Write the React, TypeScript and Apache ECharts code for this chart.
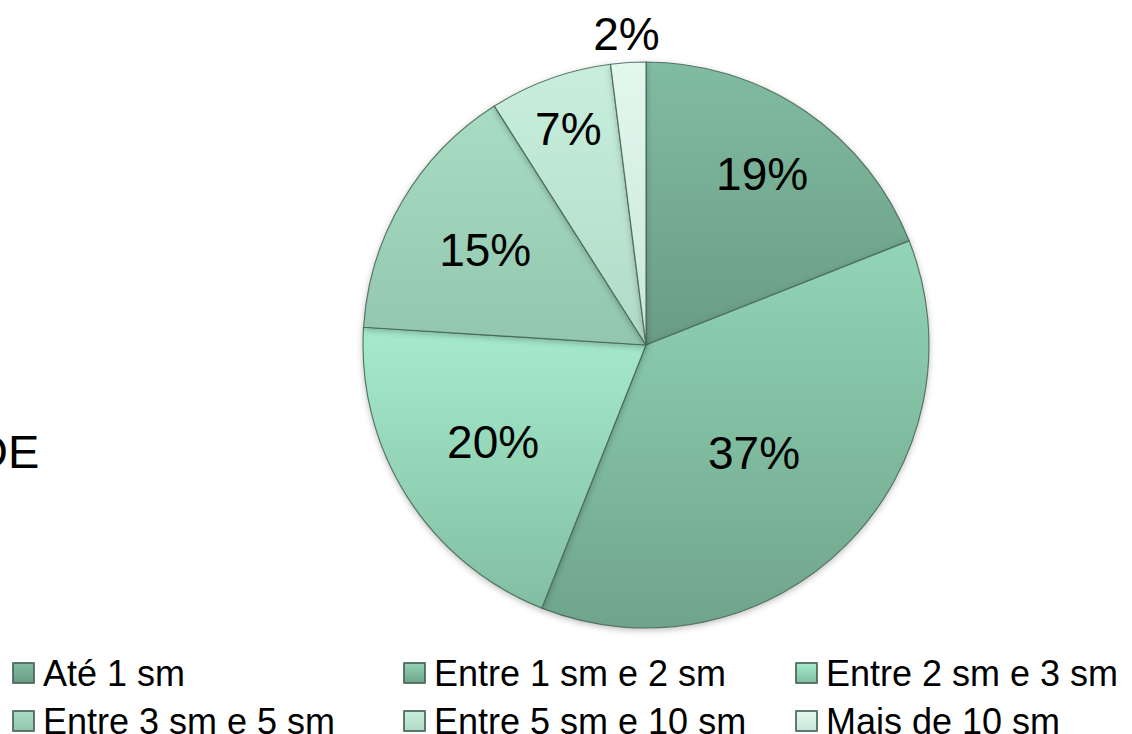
import React, { useEffect, useRef } from "react";
import * as echarts from "echarts";

const CATEGORIES = [
  "Até 1 sm",
  "Entre 1 sm e 2 sm",
  "Entre 2 sm e 3 sm",
  "Entre 3 sm e 5 sm",
  "Entre 5 sm e 10 sm",
  "Mais de 10 sm",
];
const VALUES = [19, 37, 20, 15, 7, 2];
const TOP_COLORS = ["#80bca1", "#92d5b6", "#a6ebcd", "#a8ddc4", "#c8efdd", "#e2f8ef"];
const BOTTOM_COLORS = ["#6a9c85", "#6fa48b", "#82bea2", "#92c6ae", "#b0dac7", "#c9e6da"];
const LABEL_RADIUS = [0.73, 0.54, 0.64, 0.66, 0.81, 1.1];
const SIDE_TEXT = "DE";

const CX = 646;
const CY = 345;
const R = 283;
const FONT = "'Liberation Sans', Arial, Helvetica, sans-serif";
const LEGEND_COLS = [12, 403, 795];
const LEGEND_ROWS = [655, 703];

export default function App() {
  const ref = useRef<HTMLDivElement>(null);
  useEffect(() => {
    if (!ref.current) return;
    const chart = echarts.init(ref.current, null, { renderer: "svg" });
    const data = CATEGORIES.map((name, i) => ({
      name,
      value: VALUES[i],
      itemStyle: {
        color: new echarts.graphic.LinearGradient(0, 0, 0, 1, [
          { offset: 0, color: TOP_COLORS[i] },
          { offset: 1, color: BOTTOM_COLORS[i] },
        ]),
      },
    }));
    const legends = CATEGORIES.map((name, i) => ({
      orient: "horizontal",
      left: LEGEND_COLS[i % 3],
      top: LEGEND_ROWS[Math.floor(i / 3)],
      data: [name],
      itemWidth: 21,
      itemHeight: 20,
      itemGap: 0,
      padding: 0,
      icon: "rect",
      textStyle: {
        fontSize: 36,
        fontFamily: FONT,
        color: "#000",
        lineHeight: 36,
        padding: [0, 0, 0, 4],
      },
    }));
    chart.setOption({
      animation: false,
      backgroundColor: "#fff",
      legend: legends,
      graphic: [
        {
          type: "text",
          left: -26,
          top: 428,
          style: {
            text: SIDE_TEXT,
            fontSize: 47,
            fontFamily: FONT,
            fill: "#000",
          },
        },
      ],
      series: [
        {
          type: "pie",
          center: [CX, CY],
          radius: [0, R],
          startAngle: 90,
          clockwise: true,
          avoidLabelOverlap: false,
          itemStyle: {
            borderColor: "rgba(70,100,85,0.85)",
            borderWidth: 1.2,
            shadowBlur: 6,
            shadowColor: "rgba(0,0,0,0.25)",
            shadowOffsetY: 2,
          },
          emphasis: { disabled: true },
          label: {
            show: true,
            position: "inside",
            formatter: (p: any) => p.value + "%",
            fontSize: 46,
            fontFamily: FONT,
            color: "#000",
          },
          labelLine: { show: false },
          labelLayout: (p: any) => {
            const lr = p.labelRect;
            const lx = lr.x + lr.width / 2;
            const ly = lr.y + lr.height / 2;
            const dx = lx - CX;
            const dy = ly - CY;
            const len = Math.sqrt(dx * dx + dy * dy) || 1;
            const f = LABEL_RADIUS[p.dataIndex] * R;
            return { x: CX + (dx / len) * f, y: CY + (dy / len) * f };
          },
          data,
        },
      ],
    });
    return () => chart.dispose();
  }, []);
  return (
    <div
      ref={ref}
      style={{ position: "fixed", left: 0, top: 0, width: 1132, height: 734 }}
    />
  );
}
